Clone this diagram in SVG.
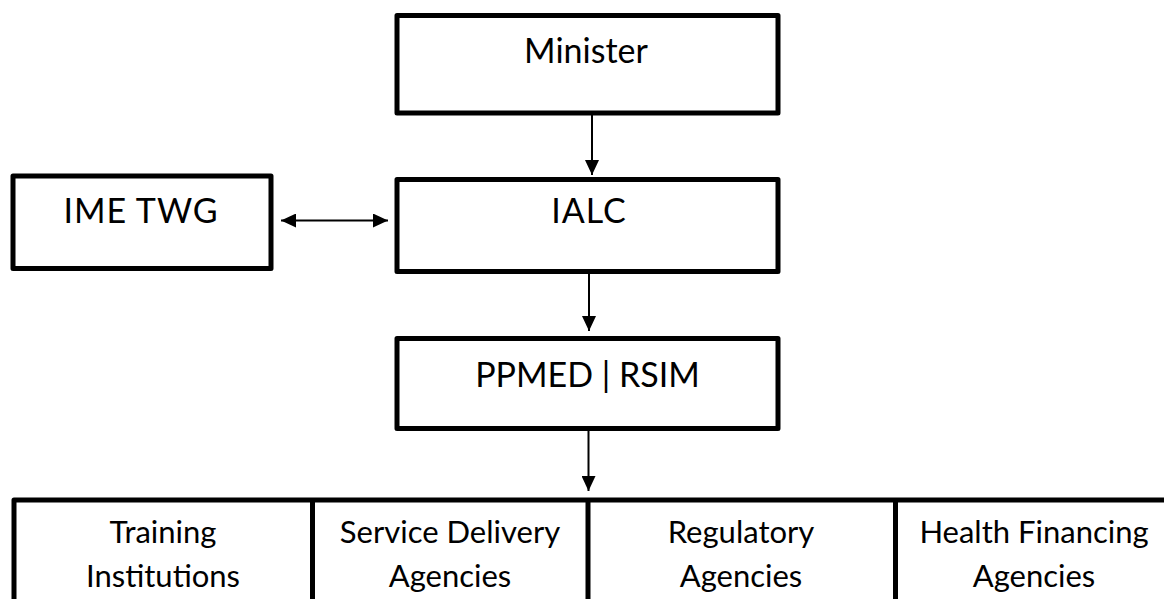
<svg xmlns="http://www.w3.org/2000/svg" width="1164" height="599" viewBox="0 0 1164 599">
<style>
.box{fill:#fff;stroke:#000;stroke-width:5;stroke-linejoin:round}
.lbl{font-family:Lato,"Liberation Sans",sans-serif;font-size:34px;fill:#000;text-anchor:middle}
.cell{font-size:31px}
.con{stroke:#000;stroke-width:2;fill:none}
.div{stroke:#000;stroke-width:5}
</style>
<defs>
<marker id="ah" markerUnits="userSpaceOnUse" markerWidth="16" markerHeight="14" viewBox="0 0 16 14" refX="15" refY="7" orient="auto-start-reverse">
<path d="M0,0 L15,7 L0,14 Z" fill="#000"/>
</marker>
</defs>
<rect width="1164" height="599" fill="#fff"/>
<g id="connectors">
<line class="con" x1="592" y1="115" x2="592" y2="175" marker-end="url(#ah)"/>
<line class="con" x1="589" y1="273" x2="589" y2="331" marker-end="url(#ah)"/>
<line class="con" x1="588.5" y1="431" x2="588.5" y2="491" marker-end="url(#ah)"/>
<line class="con" x1="281" y1="220.5" x2="388" y2="220.5" marker-start="url(#ah)" marker-end="url(#ah)"/>
</g>
<g id="minister">
<rect class="box" x="397" y="15.5" width="381" height="97.5"/>
<text class="lbl" x="586" y="63">Minister</text>
</g>
<g id="ime-twg">
<rect class="box" x="13" y="176" width="258" height="92.5"/>
<text class="lbl" x="141" y="223" letter-spacing="1">IME TWG</text>
</g>
<g id="ialc">
<rect class="box" x="397" y="179.5" width="381" height="92"/>
<text class="lbl" x="589" y="223" font-size="36" letter-spacing="1">IALC</text>
</g>
<g id="ppmed-rsim">
<rect class="box" x="397" y="338.5" width="381" height="90"/>
<text class="lbl" x="587.5" y="387">PPMED | RSIM</text>
</g>
<g id="bottom-row">
<rect class="box" x="14" y="500" width="1175" height="130"/>
<line class="div" x1="312.5" y1="500" x2="312.5" y2="610"/>
<line class="div" x1="588" y1="500" x2="588" y2="610"/>
<line class="div" x1="895.5" y1="500" x2="895.5" y2="610"/>
</g>
<g id="training-institutions">
<text class="lbl cell" x="163" y="543">Training</text>
<text class="lbl cell" x="163" y="587">Institutions</text>
</g>
<g id="service-delivery-agencies">
<text class="lbl cell" x="450" y="543">Service Delivery</text>
<text class="lbl cell" x="450" y="587">Agencies</text>
</g>
<g id="regulatory-agencies">
<text class="lbl cell" x="741" y="543">Regulatory</text>
<text class="lbl cell" x="741" y="587">Agencies</text>
</g>
<g id="health-financing-agencies">
<text class="lbl cell" x="1034" y="543">Health Financing</text>
<text class="lbl cell" x="1034" y="587">Agencies</text>
</g>
</svg>
